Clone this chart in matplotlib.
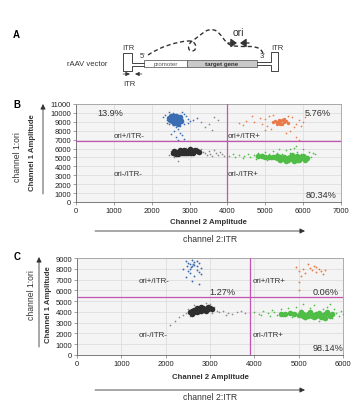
import numpy as np
import matplotlib
matplotlib.use("Agg")
import matplotlib.pyplot as plt
from matplotlib.path import Path
from matplotlib.patches import PathPatch, Rectangle

plt.rcParams['font.family'] = ['Liberation Sans', 'DejaVu Sans']

# ---------------- data ----------------
# Panel B (channel 2 amplitude, channel 1 amplitude)
b_xticks = [0, 1000, 2000, 3000, 4000, 5000, 6000, 7000]
b_yticks = [0, 1000, 2000, 3000, 4000, 5000, 6000, 7000, 8000, 9000, 10000, 11000]
b_thresh_x = 4000
b_thresh_y = 6800

b_blue_core = [(2500,9600),(2550,9650),(2600,9700),(2650,9620),(2700,9580),(2750,9500),(2520,9400),
               (2580,9450),(2640,9420),(2700,9380),(2760,9350),(2480,9250),(2560,9200),(2620,9250),
               (2680,9300),(2740,9200),(2540,9050),(2600,9000),(2660,9100),(2720,9050),(2580,8850),
               (2640,8900),(2700,8800),(2620,9500),(2560,9550),(2460,9450),(2780,9100)]
b_blue_sparse = [(2350,9800),(2400,9200),(2300,9500),(2450,10100),(2850,9900),(2900,9600),(2950,9300),
                 (3000,9100),(2850,8700),(2750,8500),(2650,8400),(2700,8200),(2600,8000),(2750,7800),
                 (2800,7500),(2650,7300),(2850,7100),(2550,8600),(2450,8700),(2400,8900),(3100,9200),
                 (3200,9400),(2950,8900),(2500,7600),(2700,7000),(2550,10000),(2800,10100)]
b_gray_upper = [(3300,9000),(3500,8800),(3650,9500),(3400,8400),(3750,9200),(3600,8100)]
b_orange_core = [(5250,9100),(5300,9000),(5350,8900),(5400,9050),(5450,9150),(5500,8950),(5350,9200),
                 (5300,8800),(5450,8800),(5550,9100),(5200,8950),(5400,8700),(5500,9300),(5600,8900)]
b_orange_sparse = [(4300,8900),(4500,9100),(4700,9000),(4650,9600),(4900,8800),(5000,9300),(5050,8500),
                   (5100,9600),(5150,8200),(5700,9500),(5800,8800),(5900,9200),(6000,9000),(5750,8400),
                   (5650,8000),(5550,7700),(5800,7300),(5900,7000),(5000,8100),(4850,9400),(5200,9800),
                   (4400,8600),(6050,9500),(5600,9700),(5950,8500)]
b_black_core = [(2550,5450),(2600,5550),(2650,5400),(2700,5600),(2750,5500),(2800,5700),(2850,5550),
                (2900,5650),(2950,5750),(3000,5600),(3050,5800),(3100,5700),(3150,5850),(3200,5750),
                (2700,5350),(2800,5450),(2900,5500),(3000,5900),(2850,5800),(2600,5700),(3250,5650),
                (2950,5450),(3100,5550),(2750,5800),(2650,5650),(3050,5450)]
b_black_sparse = [(2450,5300),(2500,5700),(3300,5950),(3350,5600),(2600,5100),(2750,6000),(3200,6100),
                  (2700,4600),(3400,5500),(3450,5300),(3500,5700),(3550,5400),(3600,5200),(3700,5500),
                  (3750,5300),(3850,5400),(3900,5200),(3650,5800),(3800,5600),(2900,6100),(3050,5250)]
b_green_core = [(5300,4900),(5400,5000),(5500,4850),(5600,4950),(5700,4800),(5800,4900),(5900,4850),
                (6000,4950),(5500,5100),(5650,5100),(5800,5050),(5950,5100),(5400,4750),(5600,4700),
                (5750,4650),(5900,4700),(6050,4750),(5200,5000),(5100,5050),(5000,5100),(5300,5150),
                (5700,5250),(6100,4900),(5550,4650),(4900,5150),(4800,5200),(5850,5200),
                (5450,4950),(5650,4900),(5850,4750),(6000,5150),(5350,5050),(5750,5000),(5950,4950)]
b_green_sparse = [(4050,5200),(4200,5100),(4300,5300),(4450,5150),(4550,5400),(4600,5050),(4700,5250),
                  (4800,5500),(4850,5100),(4900,5350),(4950,4900),(5000,5600),(5100,5400),(5150,4800),
                  (5200,5700),(5300,5500),(5350,6000),(5450,5400),(5550,5800),(5650,5500),(5750,6100),
                  (5850,5600),(5950,5400),(6050,5300),(6150,5600),(6250,5500),(6200,5100),(6300,5400),
                  (5800,6300),(5650,6000),(4400,4900),(4750,4850),(5050,4700),(4150,5350),(6000,5900)]
b_labels = ["ori+/ITR-", "ori+/ITR+", "ori-/ITR-", "ori-/ITR+"]
b_pcts = ["13.9%", "5.76%", "80.34%"]

# Panel C
c_xticks = [0, 1000, 2000, 3000, 4000, 5000, 6000]
c_yticks = [0, 1000, 2000, 3000, 4000, 5000, 6000, 7000, 8000, 9000]
c_thresh_x = 3900
c_thresh_y = 5350

c_blue = [(2500,8500),(2550,8400),(2600,8300),(2650,8350),(2580,8200),(2620,8450),(2700,8250),
          (2480,8250),(2560,8000),(2650,8600),(2750,8500),(2450,8700),(2600,8800),(2700,7900),
          (2750,7700),(2800,7500),(2650,7300),(2550,7600),(2450,7200),(2600,6900),(2750,6600),
          (2500,7800),(2800,8100),(2400,8000),(2700,8700)]
c_orange = [(4950,8200),(5000,7800),(5100,8000),(5200,8400),(5250,8100),(5300,7900),(5350,8300),
            (5400,7700),(5450,8000),(5500,7800),(5550,7500),(5150,7600),(5050,7300),(5000,6800),
            (5000,6000),(5400,8200),(5600,7900)]
c_black_core = [(2550,3950),(2600,4050),(2650,4000),(2700,4150),(2750,4100),(2800,4250),(2850,4200),
                (2900,4300),(2950,4250),(3000,4400),(2700,3950),(2800,4050),(2900,4100),(2750,4300),
                (2850,4400),(2650,4200),(2950,4450),(3050,4300),(2600,3850),(2800,4450),(2700,4350)]
c_black_sparse = [(2400,3700),(2300,3500),(2200,3200),(2100,2800),(2500,4300),(2650,4600),(3000,4700),
                  (3100,4500),(3150,4100),(3050,3900),(2450,3900),(2900,4800),(3200,4000),(3300,4100),
                  (3400,3900),(3500,3850),(3600,4000),(3700,4100),(3800,3900),(3350,3700),(2550,3600)]
c_green_core = [(4900,3800),(5000,3700),(5100,3850),(5200,3650),(5300,3750),(5400,3600),(5500,3700),
                (5600,3800),(5700,3650),(5150,3550),(5350,3500),(5550,3550),(5450,3900),(5250,3950),
                (5050,4000),(4800,3900),(4700,3850),(5650,3950),(5750,3800),(5600,3450),(4600,3800),
                (5200,3800),(5400,3800),(5500,3500),(5300,3600),(5100,3650)]
c_green_sparse = [(3900,3900),(4000,4000),(4100,3800),(4200,4100),(4300,3900),(4400,4200),(4500,3700),
                  (4600,4300),(4650,3600),(4750,4400),(4850,3500),(4950,4500),(5050,4200),(5150,3300),
                  (5250,4400),(5350,4600),(5450,3200),(5550,4300),(5650,4500),(5750,3400),(5850,3900),
                  (5950,4100),(5900,3600),(5800,4300),(6000,3800),(4450,4000),(4350,3600),(5100,4700),
                  (4150,3700),(5700,4700)]
c_labels = ["ori+/ITR-", "ori+/ITR+", "ori-/ITR-", "ori-/ITR+"]
c_pcts = ["1.27%", "0.06%", "98.14%"]

BLUE = "#3b6db3"
ORANGE = "#ea7a4a"
BLACK = "#2e2e2e"
GRAY = "#8a8a8a"
GREEN = "#4fbd46"
MAG = "#c254b3"
TXT = "#333333"

fig = plt.figure(figsize=(3.57, 4.06), dpi=100)
W, H = 357.0, 406.0

def px_axes(l, t, r, b):
    return fig.add_axes([l / W, 1 - b / H, (r - l) / W, (b - t) / H])

def style(ax, xt, yt):
    ax.set_facecolor("#f4f4f4")
    ax.set_xticks(xt)
    ax.set_yticks(yt)
    ax.set_xlim(xt[0], xt[-1])
    ax.set_ylim(yt[0], yt[-1])
    ax.grid(True, color="#dadada", lw=0.5)
    ax.set_axisbelow(True)
    ax.tick_params(labelsize=5.5, length=2, width=0.5, color="#777777", pad=1.5, labelcolor="#222222")
    for s in ax.spines.values():
        s.set_color("#a0a0a0")
        s.set_linewidth(0.6)
    ax.spines["left"].set_color("#666666")
    ax.spines["bottom"].set_color("#666666")

def sc(ax, pts, color, s):
    a = np.array(pts)
    ax.scatter(a[:, 0], a[:, 1], s=s, c=color, marker="o", linewidths=0, zorder=3)

CORE = 16
SPARSE = 1.5

# ---- Panel B ----
axB = px_axes(76, 105, 341, 203)
style(axB, b_xticks, b_yticks)
sc(axB, b_blue_sparse, BLUE, SPARSE); sc(axB, b_blue_core, BLUE, CORE)
sc(axB, b_gray_upper, GRAY, SPARSE)
sc(axB, b_orange_sparse, ORANGE, SPARSE); sc(axB, b_orange_core, ORANGE, 6)
sc(axB, b_black_sparse, GRAY, SPARSE); sc(axB, b_black_core, BLACK, CORE)
sc(axB, b_green_sparse, GREEN, SPARSE); sc(axB, b_green_core, GREEN, CORE)
axB.axvline(b_thresh_x, color=MAG, lw=0.9, zorder=4)
axB.axhline(b_thresh_y, color=MAG, lw=0.9, zorder=4)
kw = dict(fontsize=5.7, color=TXT, va="center", ha="left", zorder=5)
axB.text(1004, 7520, b_labels[0], **kw)
axB.text(4015, 7520, b_labels[1], **kw)
axB.text(1004, 3255, b_labels[2], **kw)
axB.text(4015, 3255, b_labels[3], **kw)
kp = dict(fontsize=6.6, color=TXT, va="center", ha="left", zorder=5)
axB.text(573, 9990, b_pcts[0], **kp)
axB.text(6049, 9990, b_pcts[1], **kp)
axB.text(6075, 786, b_pcts[2], **kp)

# ---- Panel C ----
axC = px_axes(77, 259, 343, 356)
style(axC, c_xticks, c_yticks)
sc(axC, c_blue, BLUE, 1.8)
sc(axC, c_orange, ORANGE, 1.8)
sc(axC, c_black_sparse, GRAY, SPARSE); sc(axC, c_black_core, BLACK, CORE)
sc(axC, c_green_sparse, GREEN, SPARSE); sc(axC, c_green_core, GREEN, CORE)
axC.axvline(c_thresh_x, color=MAG, lw=0.9, zorder=4)
axC.axhline(c_thresh_y, color=MAG, lw=0.9, zorder=4)
axC.text(1398, 6866, c_labels[0], **kw)
axC.text(3970, 6866, c_labels[1], **kw)
axC.text(1398, 1948, c_labels[2], **kw)
axC.text(3970, 1948, c_labels[3], **kw)
axC.text(2977, 5938, c_pcts[0], **kp)
axC.text(5323, 5938, c_pcts[1], **kp)
axC.text(5323, 650, c_pcts[2], **kp)

# ---- overlay (pixel coords) ----
ov = fig.add_axes([0, 0, 1, 1], zorder=10)
ov.set_xlim(0, W); ov.set_ylim(H, 0); ov.axis("off")
ov.patch.set_alpha(0)

def arrow(x0, y0, x1, y1, lw=0.6, hw=1.5, hl=3):
    ov.annotate("", xy=(x1, y1), xytext=(x0, y0),
                arrowprops=dict(arrowstyle=f"-|>,head_width={hw/10:.2f},head_length={hl/10:.2f}",
                                color="#333333", lw=lw, shrinkA=0, shrinkB=0))

# panel letters
ov.text(16, 35, "A", fontsize=7, fontweight="bold", ha="center", va="center")
ov.text(17, 105, "B", fontsize=7, fontweight="bold", ha="center", va="center")
ov.text(17, 257, "C", fontsize=7, fontweight="bold", ha="center", va="center")

# axis labels B
ov.text(17, 157, "channel 1:ori", rotation=90, fontsize=6.2, ha="center", va="center", color=TXT)
ov.text(33, 153, "Channel 1 Amplitude", rotation=90, fontsize=5.6, fontweight="bold", ha="center", va="center", color=TXT)
arrow(43, 195, 43, 105)
ov.text(208, 223, "Channel 2 Amplitude", fontsize=5.6, fontweight="bold", ha="center", va="center", color=TXT)
arrow(95, 232, 305, 232)
ov.text(210, 240, "channel 2:ITR", fontsize=6.2, ha="center", va="center", color=TXT)

# axis labels C
ov.text(32, 295, "channel 1:ori", rotation=90, fontsize=6.2, ha="center", va="center", color=TXT)
arrow(39, 348, 39, 258)
ov.text(48, 305, "Channel 1 Amplitude", rotation=90, fontsize=5.6, fontweight="bold", ha="center", va="center", color=TXT)
ov.text(210, 378, "Channel 2 Amplitude", fontsize=5.6, fontweight="bold", ha="center", va="center", color=TXT)
arrow(95, 391, 305, 391)
ov.text(210, 398, "channel 2:ITR", fontsize=6.2, ha="center", va="center", color=TXT)

# ---- Panel A diagram ----
ov.text(67, 64, "rAAV vector", fontsize=5.5, ha="left", va="center", color=TXT)
lc = "#444444"
ov.plot([144, 132, 132, 123, 123, 132, 132, 144],
        [63.5, 63.5, 54, 54, 72, 72, 66.5, 66.5], color=lc, lw=0.7)
ov.plot([257, 271, 271, 278, 278, 271, 271, 257],
        [63, 63, 53, 53, 72, 72, 66, 66], color=lc, lw=0.7)
ov.add_patch(Rectangle((144, 61), 43, 7, facecolor="white", edgecolor="#666666", lw=0.6))
ov.add_patch(Rectangle((187, 61), 70, 7, facecolor="#c9c9c9", edgecolor="#666666", lw=0.6))
ov.text(165.5, 64.8, "promoter", fontsize=4.4, ha="center", va="center", color="#555555")
ov.text(222, 64.8, "target gene", fontsize=4.4, fontweight="bold", ha="center", va="center", color="#333333")
ov.text(128, 48, "ITR", fontsize=5.5, ha="center", va="center", color=TXT)
ov.text(143, 57, "5'", fontsize=5.5, ha="center", va="center", color=TXT)
ov.text(129, 84, "ITR", fontsize=5.5, ha="center", va="center", color=TXT)
ov.text(262, 57, "3'", fontsize=5.5, ha="center", va="center", color=TXT)
ov.text(277, 49, "ITR", fontsize=5.5, ha="center", va="center", color=TXT)
ov.text(238, 33, "ori", fontsize=7.5, ha="center", va="center", color=TXT)
arrow(123, 75, 130, 75, lw=0.5, hw=1.2, hl=2.5)
arrow(142, 75, 135, 75, lw=0.5, hw=1.2, hl=2.5)
arrow(228, 44, 237, 44, lw=1.0, hw=2.5, hl=3.5)
arrow(249, 44, 240, 44, lw=1.0, hw=2.5, hl=3.5)

verts = [(148, 56), (160, 48), (175, 43), (188, 42),
         (197, 41), (198, 52), (192, 52),
         (187, 52), (187, 44), (195, 40),
         (201, 36), (206, 29), (214, 31),
         (222, 33), (224, 46), (234, 47),
         (240, 47.5), (245, 47.5), (251, 47.5),
         (258, 48), (262, 50), (263, 55)]
codes = [Path.MOVETO] + [Path.CURVE4] * (len(verts) - 1)
ov.add_patch(PathPatch(Path(verts, codes), facecolor="none", edgecolor="#333333",
                       lw=1.0, linestyle=(0, (3, 2))))

fig.savefig("out.png", dpi=100)
